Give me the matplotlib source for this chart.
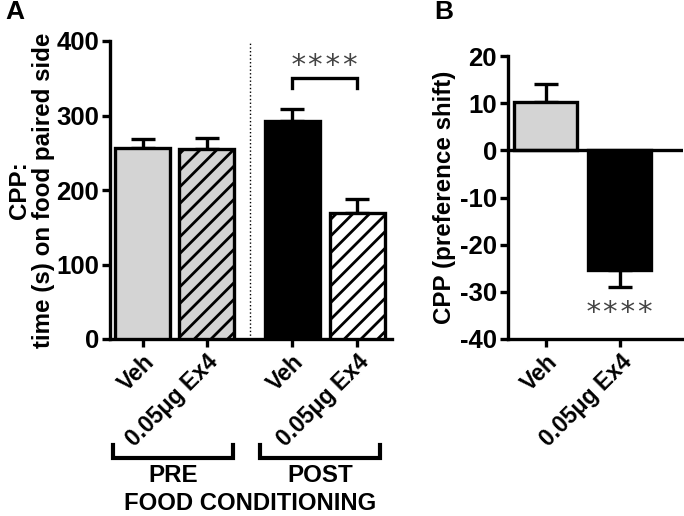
"""
CPP bar charts: panel A time on food paired side (pre/post), panel B preference shift
"""
import numpy as np
import matplotlib
matplotlib.use('Agg')
import matplotlib.pyplot as plt

plt.rcParams['font.family'] = ['Liberation Sans', 'DejaVu Sans']
plt.rcParams['hatch.linewidth'] = 2.0
plt.rcParams['hatch.color'] = 'black'
plt.rcParams['axes.unicode_minus'] = False

# ── data ────────────────────────────────────────────────────────────────
a_labels = ['Veh', '0.05\u03bcg Ex4', 'Veh', '0.05\u03bcg Ex4']
a_means = [257, 255, 293, 169]
a_sem = [11, 15, 16, 19]
a_colors = ['#d4d4d4', '#d4d4d4', 'black', 'white']
a_hatch = [None, '//', None, '//']

b_labels = ['Veh', '0.05\u03bcg Ex4']
b_means = [10.2, -25.3]
b_sem = [3.9, 3.7]
b_colors = ['#d4d4d4', 'black']

LW = 2.4
FS_TICK = 18.5
FS_XT = 16.5
FS_LAB = 17.4
STAR_KW = dict(fontsize=21, color='#444444', family='DejaVu Sans Mono')

fig = plt.figure(figsize=(6.84, 5.16), dpi=100)
ax_a = fig.add_axes([110 / 684, 1 - 339 / 516, 282 / 684, 298 / 516])
ax_b = fig.add_axes([508 / 684, 1 - 339 / 516, 175 / 684, 283 / 516])


def style(ax):
    for s in ['top', 'right']:
        ax.spines[s].set_visible(False)
    for s in ['left', 'bottom']:
        ax.spines[s].set_linewidth(LW)
    ax.tick_params(width=LW, length=6, pad=2)
    ax.tick_params(axis='y', labelsize=FS_TICK)
    ax.tick_params(axis='x', labelsize=FS_XT)
    for t in ax.get_yticklabels():
        t.set_fontweight('bold')


# ═════ panel A ═════
xa = np.array([0, 1, 2.34, 3.36])
for x, m, e, c, h in zip(xa, a_means, a_sem, a_colors, a_hatch):
    ax_a.bar(x, m, width=0.86, color=c, edgecolor='black', linewidth=LW,
             hatch=h, zorder=3)
    ax_a.errorbar(x, m, yerr=[[0], [e]], color='black', elinewidth=LW,
                  capsize=8.5, capthick=LW, zorder=2)
ax_a.axvline(1.68, color='black', lw=1.0, ls=':', zorder=1)
ax_a.set_xlim(-0.51, 3.9)
ax_a.set_ylim(0, 400)
ax_a.set_yticks([0, 100, 200, 300, 400])
ax_a.set_xticks(xa)
ax_a.set_xticklabels(a_labels, rotation=45, ha='right', rotation_mode='anchor',
                     fontweight='bold')
style(ax_a)
ax_a.set_ylabel('CPP:\ntime (s) on food paired side', fontsize=FS_LAB,
                fontweight='bold', labelpad=1, linespacing=1.05)

# significance bracket
yb = 350
ax_a.plot([xa[2], xa[2], xa[3], xa[3]], [yb - 13, yb, yb, yb - 13],
          color='black', lw=LW, clip_on=False, solid_joinstyle='miter')
ax_a.text((xa[2] + xa[3]) / 2, 367, '****', ha='center', va='center',
          **STAR_KW)


# PRE / POST brackets below axis
def group_bracket(x0, x1, label):
    tr = ax_a.get_xaxis_transform()
    ax_a.plot([x0, x0, x1, x1], [-0.355, -0.4, -0.4, -0.355], color='black',
              lw=LW + 0.6, transform=tr, clip_on=False,
              solid_joinstyle='miter')
    ax_a.text((x0 + x1) / 2, -0.458, label, transform=tr, ha='center',
              va='center', fontsize=FS_LAB, fontweight='bold')


group_bracket(-0.47, 1.42, 'PRE')
group_bracket(1.84, 3.72, 'POST')
fig.text(250 / 684, 1 - 503 / 516, 'FOOD CONDITIONING', ha='center',
         va='center', fontsize=17.2, fontweight='bold')

# ═════ panel B ═════
xb = np.array([0, 1])
for x, m, e, c in zip(xb, b_means, b_sem, b_colors):
    ax_b.bar(x, m, width=0.85, color=c, edgecolor='black', linewidth=LW,
             zorder=3)
    err = [[e], [0]] if m < 0 else [[0], [e]]
    ax_b.errorbar(x, m, yerr=err, color='black', elinewidth=LW, capsize=8.5,
                  capthick=LW, zorder=2)
ax_b.axhline(0, color='black', lw=LW, zorder=4)
ax_b.set_xlim(-0.51, 1.85)
ax_b.set_ylim(-40, 20)
ax_b.set_yticks([-40, -30, -20, -10, 0, 10, 20])
ax_b.set_xticks(xb)
ax_b.set_xticklabels(b_labels, rotation=45, ha='right', rotation_mode='anchor',
                     fontweight='bold')
style(ax_b)
ax_b.set_ylabel('CPP (preference shift)', fontsize=FS_LAB,
                fontweight='bold', labelpad=3)
ax_b.text(xb[1], -34.4, '****', ha='center', va='center', **STAR_KW)

fig.text(5 / 684, 1 - 12 / 516, 'A', fontsize=19, fontweight='bold', va='center')
fig.text(434 / 684, 1 - 12 / 516, 'B', fontsize=19, fontweight='bold', va='center')

fig.savefig('out.png', dpi=100)
